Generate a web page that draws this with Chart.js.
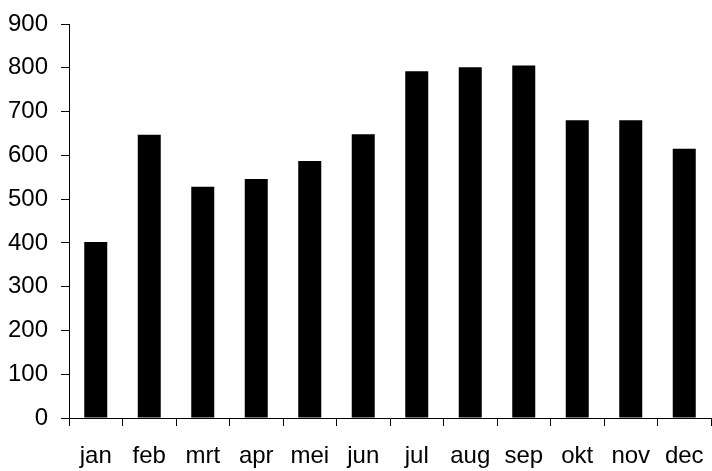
<!DOCTYPE html>
<html>
<head>
<meta charset="utf-8">
<script src="https://cdn.jsdelivr.net/npm/chart.js@4/dist/chart.umd.min.js"></script>
<style>
  html, body { margin: 0; padding: 0; background: #fff; }
  #wrap { width: 712px; height: 471px; }
</style>
</head>
<body>
<div id="wrap"><canvas id="chart1"></canvas></div>
<script>
const months = ['jan', 'feb', 'mrt', 'apr', 'mei', 'jun', 'jul', 'aug', 'sep', 'okt', 'nov', 'dec'];
const values = [402, 647, 528, 546, 587, 648, 792, 801, 805, 680, 680, 615];

const chart1 = document.querySelector('#chart1');

const data = {
    labels: months,
    datasets: [{
        data: values,
        backgroundColor: '#000',
        borderWidth: 0,
        categoryPercentage: 1,
        barPercentage: 0.43,
    }]
};

const config = {
    type: 'bar',
    data: data,
    options: {
        responsive: true,
        maintainAspectRatio: false,
        animation: false,
        layout: { padding: { top: 24, right: 1, left: 0, bottom: 0 } },
        plugins: { legend: { display: false }, tooltip: { enabled: false } },
        scales: {
            x: {
                grid: { offset: true, drawOnChartArea: false, drawTicks: true, tickLength: 8, color: '#000' },
                border: { color: '#000', width: 1 },
                ticks: { color: '#000', padding: 16, font: { family: 'Liberation Sans', size: 24 } },
                afterFit: (scale) => { scale.height = 53; scale.paddingLeft = 0; scale.paddingRight = 0; }
            },
            y: {
                min: 0,
                max: 900,
                grid: { drawOnChartArea: false, drawTicks: true, tickLength: 8, color: '#000' },
                border: { color: '#000', width: 1 },
                ticks: { stepSize: 100, color: '#000', padding: 13, font: { family: 'Liberation Sans', size: 24 } },
                afterFit: (scale) => { scale.width = 69; scale.paddingTop = 0; scale.paddingBottom = 0; }
            }
        }
    }
};

new Chart(chart1, config);
</script>
</body>
</html>
